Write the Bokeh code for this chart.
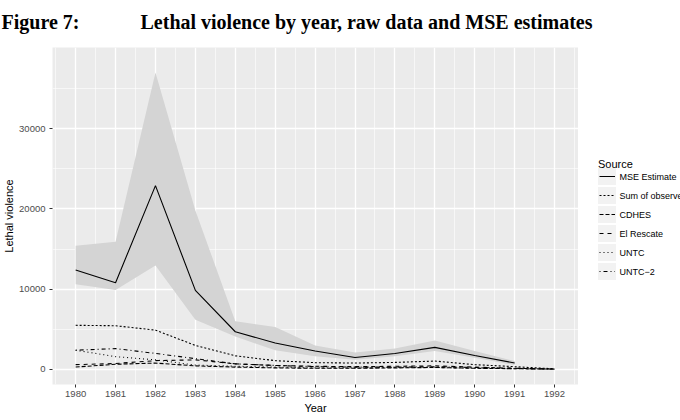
from bokeh.plotting import figure
from bokeh.models import ColumnDataSource, FixedTicker, Range1d
from bokeh.layouts import row, column
from bokeh.core.properties import value
from bokeh.embed import file_html
from bokeh.resources import INLINE

years = [1980, 1981, 1982, 1983, 1984, 1985, 1986, 1987, 1988, 1989, 1990, 1991, 1992]
mse_years = [1980, 1981, 1982, 1983, 1984, 1985, 1986, 1987, 1988, 1989, 1990, 1991]
mse_estimate = [12400, 10800, 22900, 9850, 4700, 3300, 2300, 1500, 2000, 2750, 1750, 800]
mse_lower = [10600, 9900, 12950, 6200, 4100, 2400, 1650, 1200, 1650, 2300, 1450, 550]
mse_upper = [15400, 15900, 37000, 19800, 6000, 5300, 3000, 2100, 2600, 3600, 2300, 1050]
sum_observed = [5500, 5450, 4900, 3000, 1700, 1100, 850, 800, 880, 1050, 600, 350, 80]
cdhes = [300, 650, 800, 450, 300, 200, 150, 150, 200, 250, 150, 100, 50]
el_rescate = [600, 750, 1100, 1200, 700, 500, 400, 350, 400, 450, 300, 150, 50]
untc = [2400, 1600, 1200, 550, 400, 300, 200, 200, 250, 250, 150, 100, 30]
untc2 = [2400, 2600, 2000, 1350, 700, 500, 350, 300, 300, 350, 250, 150, 50]

series_labels = ["MSE Estimate", "Sum of observed", "CDHES", "El Rescate", "UNTC", "UNTC\u22122"]
series_dashes = ["solid", "2 2", "4 2", "4 4", "1 3", "1 3 4 3"]

fig_label = "Figure 7:"
fig_title = "Lethal violence by year, raw data and MSE estimates"
legend_title = "Source"

x_ticks = years
y_ticks = [0, 10000, 20000, 30000]
y_minor = [5000, 15000, 25000, 35000]
x_minor = [y + 0.5 for y in range(1979, 1993)]

HEADER_H = 40
FRAME_TOP = 47
FRAME_BOTTOM = 384

# ---------- header (document caption) ----------
hd = figure(width=680, height=HEADER_H, output_backend="svg", toolbar_location=None, title=None,
            x_range=Range1d(0, 680), y_range=Range1d(HEADER_H, 0),
            x_axis_type=None, y_axis_type=None,
            min_border_left=0, min_border_right=0, min_border_top=0, min_border_bottom=0)
hd.outline_line_color = None
hd.xgrid.visible = False
hd.ygrid.visible = False
hd.text(x=[1, 140], y=[21, 21], text=[fig_label, fig_title],
        text_font=value("Liberation Serif"), text_font_style="bold",
        text_font_size="20px", text_color="black", text_baseline="alphabetic",
        text_align="left")

# ---------- main panel ----------
p = figure(width=578, height=420 - HEADER_H, output_backend="svg", toolbar_location=None, title=None,
           x_range=(1979.42, 1992.6), y_range=(-1870, 40100),
           min_border_left=52, min_border_right=0, min_border_top=FRAME_TOP - HEADER_H,
           min_border_bottom=420 - FRAME_BOTTOM)

p.background_fill_color = "#EBEBEB"
p.border_fill_color = "white"
p.outline_line_color = None

p.xaxis.ticker = FixedTicker(ticks=x_ticks, minor_ticks=x_minor)
p.yaxis.ticker = FixedTicker(ticks=y_ticks, minor_ticks=y_minor)
for ax in (p.xaxis, p.yaxis):
    ax.axis_line_color = None
    ax.major_tick_line_color = "#333333"
    ax.major_tick_in = 0
    ax.major_tick_out = 3
    ax.minor_tick_line_color = None
    ax.major_label_text_color = "#4D4D4D"
    ax.major_label_text_font = "Liberation Sans"
    ax.major_label_text_font_size = "9.5px"
    ax.axis_label_text_font = "Liberation Sans"
    ax.axis_label_text_font_size = "11px"
    ax.axis_label_text_font_style = "normal"
    ax.axis_label_text_color = "black"
p.xaxis.axis_label = "Year"
p.yaxis.axis_label = "Lethal violence"
p.xaxis.major_label_standoff = 2
p.yaxis.major_label_standoff = 3
p.xaxis.axis_label_standoff = 2
p.yaxis.axis_label_standoff = 1

for g in (p.xgrid, p.ygrid):
    g.grid_line_color = "white"
    g.grid_line_width = 1.3
    g.minor_grid_line_color = "white"
    g.minor_grid_line_width = 0.6
p.xgrid.ticker = FixedTicker(ticks=x_ticks, minor_ticks=x_minor)
p.ygrid.ticker = FixedTicker(ticks=y_ticks, minor_ticks=y_minor)

band = ColumnDataSource(dict(x=mse_years, lo=mse_lower, hi=mse_upper, y=mse_estimate))
p.varea(x="x", y1="lo", y2="hi", source=band, fill_color="#D4D4D4", fill_alpha=1)

src = ColumnDataSource(dict(x=years, s=sum_observed, c=cdhes, e=el_rescate, u=untc, u2=untc2))
p.line("x", "y", source=band, line_color="black", line_width=1.1, line_dash=series_dashes[0])
for col, dash in zip(["s", "c", "e", "u", "u2"], series_dashes[1:]):
    p.line("x", col, source=src, line_color="black", line_width=1.1, line_dash=dash)

# ---------- legend panel (y in page pixels; frame aligned with main panel) ----------
lg = figure(width=102, height=420 - HEADER_H, output_backend="svg", toolbar_location=None, title=None,
            x_range=Range1d(0, 102), y_range=Range1d(FRAME_BOTTOM, FRAME_TOP),
            x_axis_type=None, y_axis_type=None,
            min_border_left=0, min_border_right=0, min_border_top=FRAME_TOP - HEADER_H,
            min_border_bottom=420 - FRAME_BOTTOM)
lg.outline_line_color = None
lg.background_fill_color = "white"
lg.border_fill_color = "white"
lg.xgrid.visible = False
lg.ygrid.visible = False

top0 = 176   # centre of first key, page pixels
step = 19
centers = [top0 + i * step for i in range(len(series_labels))]
lg.text(x=[19.5], y=[163], text=[legend_title], text_font=value("Liberation Sans"),
        text_font_size="11px", text_color="black", text_baseline="alphabetic")
lg.rect(x=[28.5] * len(centers), y=centers, width=18, height=17,
        fill_color="#F2F2F2", line_color=None)
for cy, dash in zip(centers, series_dashes):
    lg.line(x=[21, 36.5], y=[cy, cy], line_color="black", line_width=1.1, line_dash=dash)
lg.text(x=[41] * len(centers), y=centers, text=series_labels, text_font=value("Liberation Sans"),
        text_font_size="9px", text_color="black", text_baseline="middle")

layout = column(hd, row(p, lg, spacing=0), spacing=0)
open("out.html", "w").write(file_html(layout, INLINE))
